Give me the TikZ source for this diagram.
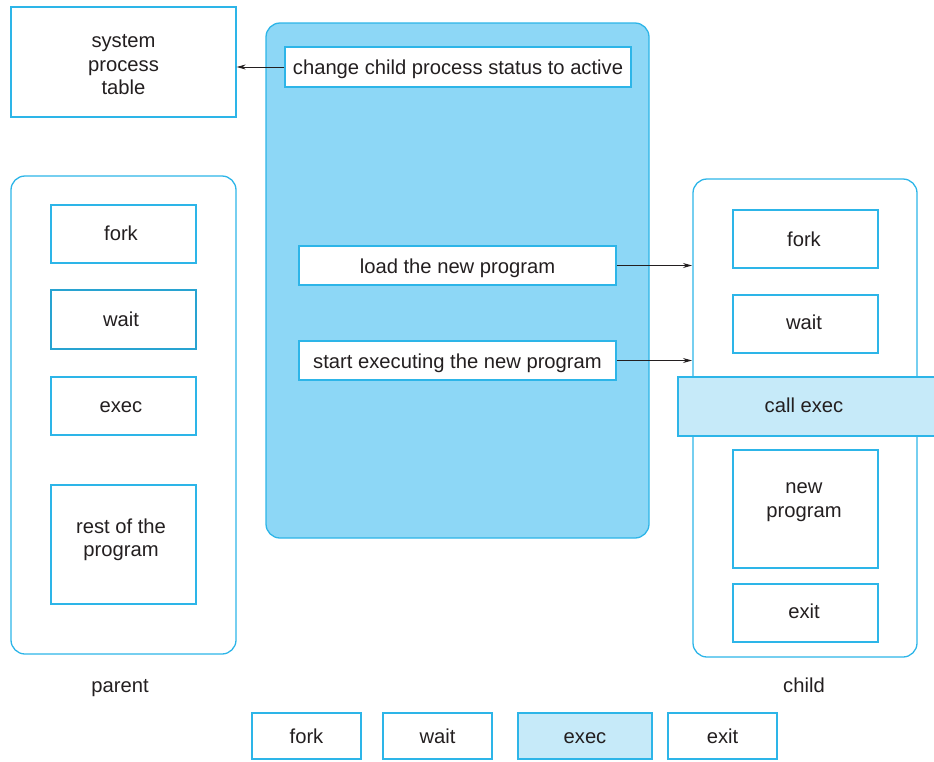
\documentclass[tikz,border=0pt]{standalone}
\usepackage{fontspec}
\setmainfont{Liberation Sans}
\usetikzlibrary{arrows.meta}
\definecolor{edge}{HTML}{2DB5E8}
\definecolor{bigfill}{HTML}{8DD7F6}
\definecolor{lightfill}{HTML}{C6EAF9}
\definecolor{ink}{HTML}{231F20}
\tikzset{
  box/.style={draw=edge, line width=1.3pt, fill=white, inner sep=0pt, align=center, text=ink},
  frame/.style={draw=edge, line width=1.3pt, rounded corners=14pt},
  lbl/.style={text=ink, inner sep=0pt, align=center, yshift=-3pt},
  one/.style={text=ink, inner sep=0pt, text height=14.5pt, text depth=4.2pt, yshift=-2.5pt},
  arr/.style={draw=ink, line width=1pt, -{Stealth[length=9pt,width=5pt]}}
}
\newcommand{\bx}[6]{% name, x1, y1, x2, y2, style
  \node[box,#6, minimum width={#4-#2}, minimum height={#5-#3}] (#1) at ({(#2+#4)/2},{(#3+#5)/2}) {};}
\begin{document}
\begin{tikzpicture}[x=1pt,y=-1pt,font=\fontsize{20.2}{23.5}\selectfont]
\useasboundingbox (0,0) rectangle (934,761);
% system process table
\bx{spt}{11}{7}{236}{117}{}
\node[lbl] (sptt) at (spt.center) {system\\process\\table};
% big blue kernel box
\node[frame, fill=bigfill, minimum width=383pt, minimum height=515pt, inner sep=0pt] (kern) at (457.5,280.5) {};
\bx{chg}{285}{47}{631}{87}{}
\node[one] (chgt) at (chg.center) {change child process status to active};
\bx{load}{299}{246}{616}{285}{}
\node[one] (loadt) at (load.center) {load the new program};
\bx{start}{299}{341}{616}{380}{}
\node[one] (startt) at (start.center) {start executing the new program};
% parent
\node[frame, minimum width=225pt, minimum height=478pt, inner sep=0pt] (parent) at (123.5,415) {};
\bx{pfork}{51}{205}{196}{263}{}
\node[one] (pforkt) at (121,233) {fork};
\bx{pwait}{51}{290}{196}{349}{line width=1.8pt, draw=edge!90!black}
\node[one] (pwaitt) at (121,319) {wait};
\bx{pexec}{51}{377}{196}{435}{}
\node[one] (pexect) at (121,405) {exec};
\bx{prest}{51}{485}{196}{604}{}
\node[lbl] (prestt) at (121,537) {rest of the\\program};
\node[one] (parentl) at (120,685) {parent};
% child
\node[frame, minimum width=224pt, minimum height=478pt, inner sep=0pt] (child) at (805,418) {};
\bx{cfork}{733}{210}{878}{268}{}
\node[one] (cforkt) at (804,239) {fork};
\bx{cwait}{733}{295}{878}{353}{}
\node[one] (cwaitt) at (804,322) {wait};
\bx{cexec}{678}{377}{940}{436}{fill=lightfill}
\node[one] (cexect) at (804,405) {call exec};
\bx{cnew}{733}{450}{878}{568}{}
\node[lbl] (cnewt) at (804,499) {new\\program};
\bx{cexit}{733}{584}{878}{642}{}
\node[one] (cexitt) at (804,611) {exit};
\node[one] (childl) at (804,685) {child};
% arrows
\coordinate (loadend) at (692,265);
\coordinate (startend) at (692,360);
\draw[arr] (chg.west) -- (spt.east |- chg.west);
\draw[arr] (load.east) -- (loadend |- load.east);
\draw[arr] (start.east) -- (startend |- start.east);
% legend
\bx{lfork}{252}{713}{361}{759}{}
\node[one] (lforkt) at (lfork.center) {fork};
\bx{lwait}{383}{713}{492}{759}{}
\node[one] (lwaitt) at (lwait.center) {wait};
\bx{lexec}{518}{713}{652}{759}{fill=lightfill}
\node[one] (lexect) at (lexec.center) {exec};
\bx{lexit}{668}{713}{777}{759}{}
\node[one] (lexitt) at (lexit.center) {exit};
\end{tikzpicture}
\end{document}
